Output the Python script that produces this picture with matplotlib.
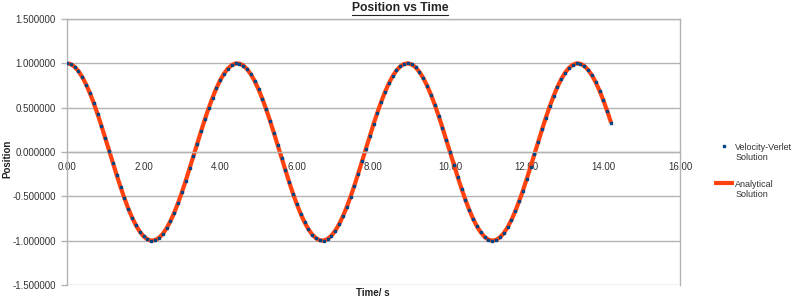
import numpy as np
import matplotlib
matplotlib.use("Agg")
import matplotlib.pyplot as plt
from matplotlib.lines import Line2D
from matplotlib.legend_handler import HandlerLine2D

plt.rcParams['font.family'] = ['Liberation Sans', 'DejaVu Sans']

# time step 0.1 s, 0.0 .. 14.2 s
time = [round(0.1 * i, 1) for i in range(143)]

position = [
    1.0000, 0.9900, 0.9603, 0.9113, 0.8442, 0.7602, 0.6611, 0.5487, 0.4254, 0.2936,
    0.1559, 0.0152, -0.1260, -0.2645, -0.3978, -0.5231, -0.6380, -0.7402, -0.8276, -0.8984,
    -0.9513, -0.9853, -0.9995, -0.9938, -0.9683, -0.9234, -0.8601, -0.7796, -0.6835, -0.5739,
    -0.4527, -0.3224, -0.1858, -0.0455, 0.0958, 0.2351, 0.3698, 0.4971, 0.6144, 0.7194,
    0.8102, 0.8847, 0.9416, 0.9796, 0.9982, 0.9967, 0.9754, 0.9346, 0.8752, 0.7983,
    0.7053, 0.5984, 0.4795, 0.3511, 0.2155, 0.0757, -0.0656, -0.2055, -0.3414, -0.4705,
    -0.5902, -0.6981, -0.7920, -0.8701, -0.9309, -0.9731, -0.9959, -0.9987, -0.9816, -0.9450,
    -0.8894, -0.8161, -0.7265, -0.6224, -0.5059, -0.3793, -0.2451, -0.1060, 0.0353, 0.1758,
    0.3128, 0.4435, 0.5655, 0.6761, 0.7732, 0.8548, 0.9194, 0.9657, 0.9927, 0.9998,
    0.9870, 0.9545, 0.9029, 0.8333, 0.7470, 0.6459, 0.5318, 0.4071, 0.2743, 0.1361,
    -0.0050, -0.1459, -0.2838, -0.4161, -0.5401, -0.6534, -0.7536, -0.8387, -0.9071, -0.9574,
    -0.9885, -0.9999, -0.9914, -0.9631, -0.9155, -0.8496, -0.7668, -0.6687, -0.5573, -0.4347,
    -0.3033, -0.1660, -0.0254, 0.1157, 0.2546, 0.3884, 0.5144, 0.6301, 0.7333, 0.8218,
    0.8939, 0.9482, 0.9835, 0.9992, 0.9949, 0.9708, 0.9273, 0.8653, 0.7860, 0.6909,
    0.5822, 0.4618, 0.3322,
]

verlet_pos = position
analytic_pos = position

x_ticks = [0, 2, 4, 6, 8, 10, 12, 14, 16]
y_ticks = [-1.5, -1.0, -0.5, 0.0, 0.5, 1.0, 1.5]

grid_col = '#b3b3b3'
text_col = '#333333'


class FirstLineHandler(HandlerLine2D):
    # put the legend key level with the first line of a two-line label
    def create_artists(self, legend, orig_handle, xdescent, ydescent,
                       width, height, fontsize, trans):
        arts = super().create_artists(legend, orig_handle, xdescent, ydescent,
                                      width, height, fontsize, trans)
        for a in arts:
            a.set_ydata(np.asarray(a.get_ydata()) + 0.7 * fontsize)
        return arts


fig = plt.figure(figsize=(8, 3), dpi=100)
ax = fig.add_axes([0.08375, 0.05, 0.76625, 0.8867])

ax.plot(time, analytic_pos, color='#ff420e', linewidth=3.0, solid_capstyle='butt',
        label='Analytical\nSolution', zorder=2)
ax.plot(time, verlet_pos, linestyle='none', marker='s', markersize=1.6,
        color='#004586', label='Velocity-Verlet\nSolution', zorder=3)

ax.set_xlim(0, 16)
ax.set_ylim(-1.5, 1.5)
ax.set_xticks(x_ticks)
ax.set_yticks(y_ticks)
ax.set_xticklabels([f'{v:.2f}' for v in x_ticks])
ax.set_yticklabels([f'{v:.6f}' for v in y_ticks])

ax.set_axisbelow(True)
ax.grid(axis='y', color=grid_col, linewidth=1.0)
for s in ax.spines.values():
    s.set_color(grid_col)
    s.set_linewidth(1.0)
ax.spines['bottom'].set_position(('data', 0))

ax.tick_params(axis='x', length=0, pad=7, labelsize=7, labelcolor=text_col)
ax.tick_params(axis='y', length=4, width=1.0, color=grid_col, pad=4,
               labelsize=7, labelcolor=text_col)

fig.text(0.009, 0.47, 'Position', rotation=90, ha='center', va='center',
         fontsize=7, fontweight='bold', color='#222222')
fig.text(0.466, 0.022, 'Time/ s', ha='center', va='center',
         fontsize=7, fontweight='bold', color='#222222')

title = fig.text(0.5, 0.973, 'Position vs Time', ha='center', va='center',
                 fontsize=8.7, fontweight='bold', color='#222222')
fig.canvas.draw()
bb = title.get_window_extent(fig.canvas.get_renderer())
fig.add_artist(Line2D([bb.x0, bb.x1], [bb.y0 - 0.5, bb.y0 - 0.5], color='#222222',
                      linewidth=0.8, transform=None))

handles, labels = ax.get_legend_handles_labels()
fig.legend(handles[::-1], labels[::-1], loc='upper left', bbox_to_anchor=(0.882, 0.552),
           frameon=False, fontsize=6.5, handlelength=2.3, handletextpad=0.1,
           labelspacing=1.95, labelcolor=text_col,
           handler_map={Line2D: FirstLineHandler()})

fig.savefig('out.png', dpi=100)
